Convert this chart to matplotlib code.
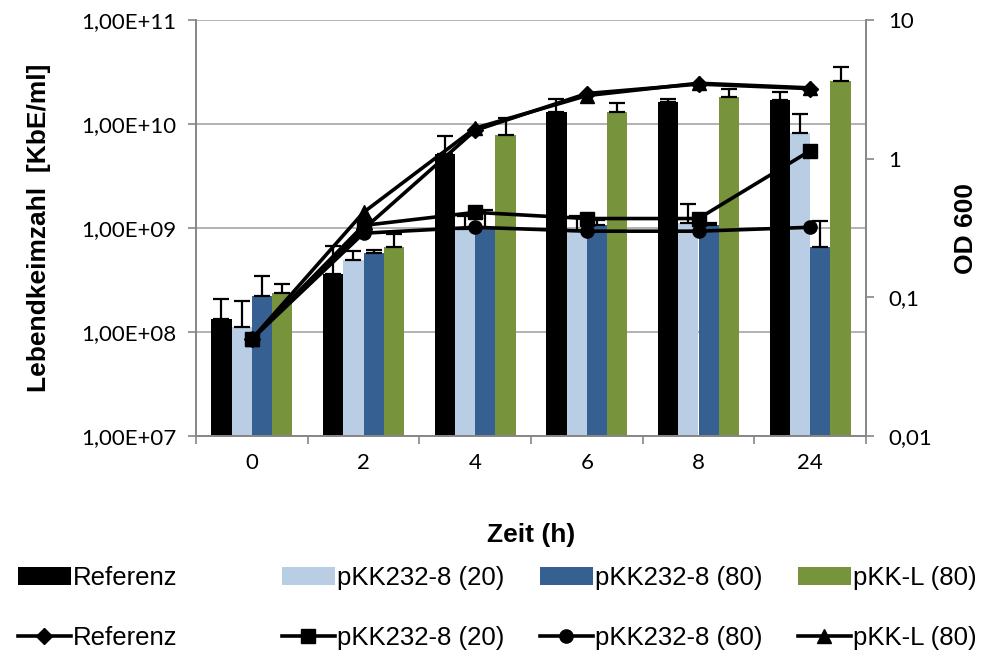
import matplotlib
matplotlib.use("Agg")
import matplotlib.pyplot as plt
import numpy as np
from matplotlib.ticker import FixedLocator, FixedFormatter, NullLocator

# data
zeit = ["0", "2", "4", "6", "8", "24"]
namen = ["Referenz", "pKK232-8 (20)", "pKK232-8 (80)", "pKK-L (80)"]

kbe_ref = [1.33e8, 3.6e8, 5.1e9, 1.29e10, 1.64e10, 1.7e10]
kbe_p20 = [1.12e8, 4.9e8, 9.8e8, 9.4e8, 1.12e9, 8.2e9]
kbe_p80 = [2.2e8, 5.75e8, 1.0e9, 1.07e9, 1.07e9, 6.5e8]
kbe_kkl = [2.35e8, 6.6e8, 7.8e9, 1.29e10, 1.83e10, 2.6e10]

err_ref = [0.74e8, 3.1e8, 2.6e9, 4.5e9, 1.0e9, 3.5e9]
err_p20 = [0.88e8, 1.07e8, 3.2e8, 3.6e8, 5.8e8, 4.3e9]
err_p80 = [1.27e8, 0.35e8, 5.0e8, 1.3e8, 0.5e8, 5.2e8]
err_kkl = [0.53e8, 2.1e8, 3.7e9, 3.1e9, 3.4e9, 9.5e9]

od_ref = [0.05, 0.31, 1.6, 2.95, 3.45, 3.2]
od_p20 = [0.05, 0.33, 0.41, 0.37, 0.37, 1.14]
od_p80 = [0.05, 0.29, 0.32, 0.30, 0.30, 0.32]
od_kkl = [0.05, 0.41, 1.66, 2.85, 3.5, 3.24]

farben = ["#000000", "#B9CDE5", "#376092", "#77933C"]
marker = ["D", "s", "o", "^"]
msize = [8, 9.5, 9.5, 10]

tick_font = "Lato"
leg_font = "Liberation Sans"

fig = plt.figure(figsize=(9.83, 6.53), dpi=100)
ax = fig.add_axes([196 / 983, 1 - 436 / 653, 670 / 983, 416 / 653])
ax2 = ax.twinx()

x = np.arange(len(zeit))
w = 0.182
bars = []
for i, (vals, errs) in enumerate(zip([kbe_ref, kbe_p20, kbe_p80, kbe_kkl],
                                     [err_ref, err_p20, err_p80, err_kkl])):
    b = ax.bar(x + (i - 1.5) * w, np.array(vals) - 1e7, w, bottom=1e7,
               color=farben[i], zorder=2)
    ax.errorbar(x + (i - 1.5) * w, vals, yerr=[np.zeros(len(vals)), errs],
                fmt="none", ecolor="black", elinewidth=1.6, capsize=6,
                capthick=1.6, zorder=3)
    bars.append(b)

ax.set_yscale("log")
ax.set_ylim(1e7, 1e11)
ax.set_xlim(-0.5, len(zeit) - 0.5)
ax.yaxis.set_major_locator(FixedLocator([1e7, 1e8, 1e9, 1e10, 1e11]))
ax.yaxis.set_major_formatter(FixedFormatter(["1,00E+07", "1,00E+08", "1,00E+09",
                                             "1,00E+10", "1,00E+11"]))
ax.yaxis.set_minor_locator(NullLocator())
ax.grid(axis="y", color="#A6A6A6", lw=1.2, zorder=0)
ax.set_axisbelow(True)

ax.set_xticks(x)
ax.set_xticklabels(zeit)
ax.xaxis.set_minor_locator(FixedLocator(np.arange(-0.5, len(zeit), 1)))
ax.tick_params(axis="x", which="major", length=0, pad=12)
ax.tick_params(axis="x", which="minor", length=6, color="#868686", width=1.2)
ax.tick_params(axis="y", length=6, color="#868686", width=1.2, pad=8)

lines = []
for i, od in enumerate([od_ref, od_p20, od_p80, od_kkl]):
    l, = ax2.plot(x, od, color="black", lw=2.6, marker=marker[i],
                  markersize=msize[i], markerfacecolor="black", zorder=4)
    lines.append(l)

ax2.set_yscale("log")
ax2.set_ylim(0.01, 10)
ax2.yaxis.set_major_locator(FixedLocator([0.01, 0.1, 1, 10]))
ax2.yaxis.set_major_formatter(FixedFormatter(["0,01", "0,1", "1", "10"]))
ax2.yaxis.set_minor_locator(NullLocator())
ax2.tick_params(axis="y", length=6, color="#868686", width=1.2, pad=10)

for a in (ax, ax2):
    a.spines["top"].set_visible(False)
    for s in ("left", "right", "bottom"):
        a.spines[s].set_color("#868686")
        a.spines[s].set_linewidth(1.2)
    for lab in a.get_yticklabels() + a.get_xticklabels():
        lab.set_fontfamily(tick_font)
        lab.set_fontsize(16)

ax.set_ylabel("Lebendkeimzahl  [KbE/ml]", fontsize=19, fontweight="bold",
              family=leg_font, labelpad=22)
ax.set_xlabel("Zeit (h)", fontsize=19, fontweight="bold", family=leg_font,
              labelpad=36)
ax2.set_ylabel("OD 600", fontsize=19, fontweight="bold", family=leg_font,
               labelpad=16)

# one small legend per column, like the original spacing
spalten = [18, 282, 540, 798]
for i in range(4):
    fig.legend([bars[i], lines[i]], [namen[i], namen[i]],
               loc="upper left", bbox_to_anchor=(spalten[i] / 983, 1 - 566 / 653),
               frameon=False, borderpad=0, borderaxespad=0, handlelength=2.05,
               handletextpad=0.1, labelspacing=1.4, numpoints=1,
               prop={"family": leg_font, "size": 18.5})

fig.savefig("out.png", dpi=100)
